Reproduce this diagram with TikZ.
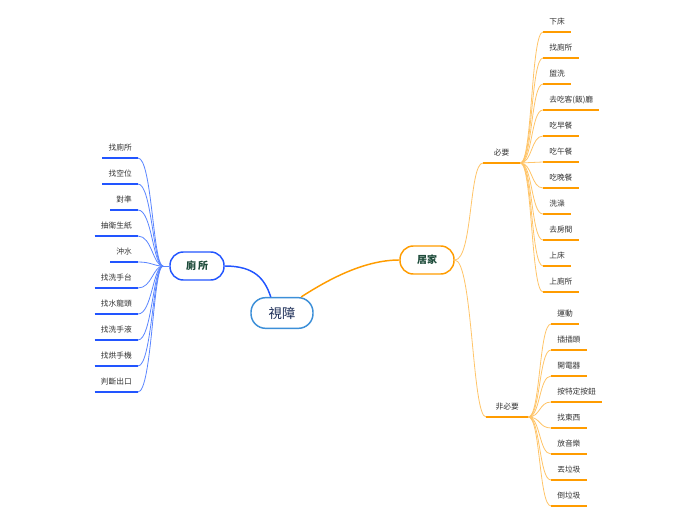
\documentclass[tikz,border=0pt]{standalone}
\usepackage{fontspec}
\newfontfamily\cjk{Noto Sans CJK TC}
\definecolor{orline}{HTML}{FF9C00}
\definecolor{orfan}{HTML}{FFC468}
\definecolor{blline}{HTML}{2255FF}
\definecolor{blfan}{HTML}{5A85FF}
\definecolor{rootline}{HTML}{3C8FD8}
\definecolor{topictext}{HTML}{1D4B3A}
\definecolor{roottext}{HTML}{1A2B55}
\begin{document}
\begin{tikzpicture}[x=0.75pt, y=-0.75pt,
  root/.style={draw=rootline, line width=1.1pt, rounded corners=11pt,
    minimum width=46.5pt, minimum height=23pt, fill=white, text=roottext,
    font=\cjk\fontsize{10}{12}\selectfont},
  topic/.style={draw=#1, line width=1.1pt, rounded corners=10pt,
    minimum width=40.5pt, minimum height=21pt, fill=white, text=topictext,
    font=\cjk\bfseries\fontsize{7.5}{9}\selectfont},
  leaf/.style={font=\cjk\fontsize{5.8}{7}\selectfont, text=black!80,
    inner xsep=4.5pt, inner ysep=0pt, text height=5.5pt, text depth=5.3pt},
  uline/.style={line width=1.5pt, #1},
  fan/.style={line width=0.6pt, #1}]
\useasboundingbox (0,0) rectangle (696,520);

% centre and main topics
\node[root] (shizhang) at (282,313) {視障};
\node[topic=blline] (cesuo) at (197,266) {廁\hspace{1.5pt}所};
\node[topic=orline] (jujia) at (427,260) {居家};
\draw[blline, line width=1.1pt] (cesuo.east) .. controls +(30,0) and +(-6,-18) .. (shizhang.125);
\draw[orline, line width=1.1pt] (jujia.west) .. controls +(-38,0) and +(22,-14) .. (shizhang.40);

% ---------- 居家
\node[leaf, anchor=south west, inner xsep=8pt] (biyao) at (483,163) {必要};
\node[leaf, anchor=south west, inner xsep=7pt] (feibiyao) at (486,417) {非必要};
\draw[uline=orline] (biyao.south west) -- (biyao.south east);
\draw[uline=orline] (feibiyao.south west) -- (feibiyao.south east);
\draw[fan=orfan] (jujia.east) .. controls +(18,0) and +(-14,0) .. (biyao.south west);
\draw[fan=orfan] (jujia.east) .. controls +(18,0) and +(-14,0) .. (feibiyao.south west);

\foreach \t [count=\i] in {下床,找廁所,盥洗,去吃客(飯)廳,吃早餐,吃午餐,吃晚餐,洗澡,去房間,上床,上廁所}{
  \node[leaf, anchor=south west] (b\i) at (543,{32+26*(\i-1)}) {\t};
  \draw[uline=orline] (b\i.south west) -- (b\i.south east);
  \draw[fan=orfan] (biyao.south east) .. controls +(12,0) and +(-12,0) .. (b\i.south west);
}
\foreach \t [count=\i] in {運動,插插頭,開電器,按特定按鈕,找東西,放音樂,丟垃圾,倒垃圾}{
  \node[leaf, anchor=south west] (f\i) at (551,{324+26*(\i-1)}) {\t};
  \draw[uline=orline] (f\i.south west) -- (f\i.south east);
  \draw[fan=orfan] (feibiyao.south east) .. controls +(12,0) and +(-12,0) .. (f\i.south west);
}

% ---------- 廁所
\coordinate (cehub) at (163,266);
\draw[fan=blfan] (cesuo.west) -- (cehub);
\foreach \t [count=\i] in {找廁所,找空位,對準,抽衛生紙,沖水,找洗手台,找水龍頭,找洗手液,找烘手機,判斷出口}{
  \node[leaf, anchor=south east] (c\i) at (138,{158+26*(\i-1)}) {\t};
  \draw[uline=blline] (c\i.south west) -- (c\i.south east);
  \draw[fan=blfan] (c\i.south east) .. controls +(14,0) and +(-10,0) .. (cehub);
}
\end{tikzpicture}
\end{document}
